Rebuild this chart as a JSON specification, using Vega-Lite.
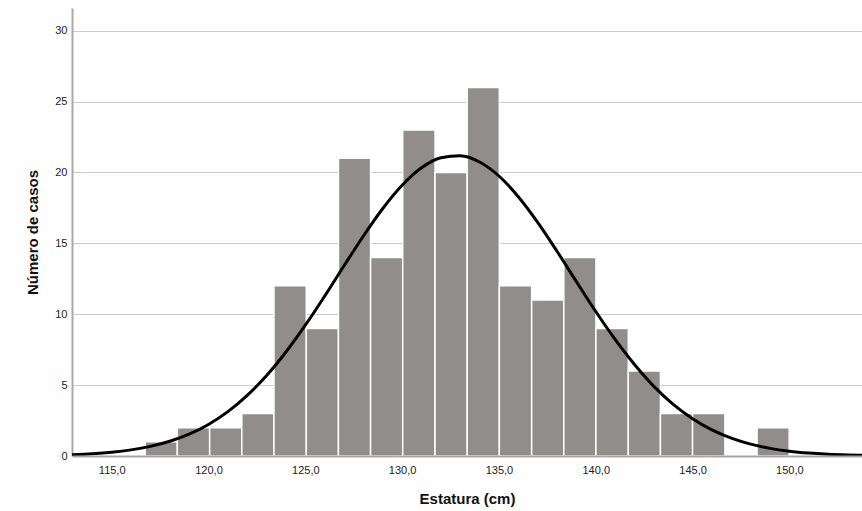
{
  "$schema": "https://vega.github.io/schema/vega-lite/v6.json",
  "width": 790,
  "height": 448,
  "autosize": {"type": "none"},
  "padding": {"left": 72, "top": 8, "right": 0, "bottom": 55},
  "config": {
    "font": "Liberation Sans",
    "view": {"stroke": null},
    "axis": {
      "labelFont": "Liberation Sans",
      "titleFont": "Liberation Sans",
      "labelFontSize": 11,
      "labelColor": "#222222",
      "titleFontSize": 15,
      "titleFontWeight": "bold",
      "titleColor": "#111111"
    }
  },
  "datasets": {
    "histograma": [
      {"inicio": 116.73, "fin": 118.39, "casos": 1},
      {"inicio": 118.39, "fin": 120.06, "casos": 2},
      {"inicio": 120.06, "fin": 121.72, "casos": 2},
      {"inicio": 121.72, "fin": 123.38, "casos": 3},
      {"inicio": 123.38, "fin": 125.05, "casos": 12},
      {"inicio": 125.05, "fin": 126.71, "casos": 9},
      {"inicio": 126.71, "fin": 128.37, "casos": 21},
      {"inicio": 128.37, "fin": 130.03, "casos": 14},
      {"inicio": 130.03, "fin": 131.70, "casos": 23},
      {"inicio": 131.70, "fin": 133.36, "casos": 20},
      {"inicio": 133.36, "fin": 135.02, "casos": 26},
      {"inicio": 135.02, "fin": 136.69, "casos": 12},
      {"inicio": 136.69, "fin": 138.35, "casos": 11},
      {"inicio": 138.35, "fin": 140.01, "casos": 14},
      {"inicio": 140.01, "fin": 141.68, "casos": 9},
      {"inicio": 141.68, "fin": 143.34, "casos": 6},
      {"inicio": 143.34, "fin": 145.00, "casos": 3},
      {"inicio": 145.00, "fin": 146.67, "casos": 3},
      {"inicio": 146.67, "fin": 148.33, "casos": 0},
      {"inicio": 148.33, "fin": 149.99, "casos": 2}
    ],
    "curva_normal": [
      {"estatura": 112, "casos": 0.054},
      {"estatura": 113, "casos": 0.095},
      {"estatura": 114, "casos": 0.161},
      {"estatura": 115, "casos": 0.268},
      {"estatura": 116, "casos": 0.433},
      {"estatura": 117, "casos": 0.679},
      {"estatura": 118, "casos": 1.037},
      {"estatura": 119, "casos": 1.540},
      {"estatura": 120, "casos": 2.226},
      {"estatura": 121, "casos": 3.127},
      {"estatura": 122, "casos": 4.272},
      {"estatura": 123, "casos": 5.677},
      {"estatura": 124, "casos": 7.338},
      {"estatura": 125, "casos": 9.224},
      {"estatura": 126, "casos": 11.28},
      {"estatura": 127, "casos": 13.42},
      {"estatura": 128, "casos": 15.52},
      {"estatura": 129, "casos": 17.46},
      {"estatura": 130, "casos": 19.10},
      {"estatura": 131, "casos": 20.33},
      {"estatura": 132, "casos": 21.04},
      {"estatura": 133, "casos": 21.18},
      {"estatura": 134, "casos": 20.74},
      {"estatura": 135, "casos": 19.75},
      {"estatura": 136, "casos": 18.29},
      {"estatura": 137, "casos": 16.48},
      {"estatura": 138, "casos": 14.44},
      {"estatura": 139, "casos": 12.30},
      {"estatura": 140, "casos": 10.19},
      {"estatura": 141, "casos": 8.22},
      {"estatura": 142, "casos": 6.45},
      {"estatura": 143, "casos": 4.91},
      {"estatura": 144, "casos": 3.64},
      {"estatura": 145, "casos": 2.63},
      {"estatura": 146, "casos": 1.84},
      {"estatura": 147, "casos": 1.26},
      {"estatura": 148, "casos": 0.836},
      {"estatura": 149, "casos": 0.539},
      {"estatura": 150, "casos": 0.338},
      {"estatura": 151, "casos": 0.207},
      {"estatura": 152, "casos": 0.123},
      {"estatura": 153, "casos": 0.071},
      {"estatura": 154, "casos": 0.040}
    ]
  },
  "layer": [
    {
      "data": {"name": "histograma"},
      "mark": {"type": "bar", "color": "#918d8c", "stroke": "#ffffff", "strokeWidth": 1.5},
      "encoding": {
        "x": {
          "field": "inicio",
          "type": "quantitative",
          "title": "Estatura (cm)",
          "scale": {"domain": [112.95, 153.75], "nice": false, "zero": false},
          "axis": {
            "values": [115, 120, 125, 130, 135, 140, 145, 150],
            "labelExpr": "replace(format(datum.value, '.1f'), '.', ',')",
            "grid": false,
            "ticks": false,
            "domain": true,
            "domainColor": "#a8a8a8",
            "domainWidth": 2,
            "labelPadding": 8,
            "titlePadding": 16,
            "zindex": 1
          }
        },
        "x2": {"field": "fin"},
        "y": {
          "field": "casos",
          "type": "quantitative",
          "title": "Número de casos",
          "scale": {"domain": [0, 31.6], "nice": false},
          "axis": {
            "values": [0, 5, 10, 15, 20, 25, 30],
            "grid": true,
            "gridColor": "#cccccc",
            "gridWidth": 1,
            "ticks": false,
            "domain": true,
            "domainColor": "#a8a8a8",
            "domainWidth": 2,
            "labelPadding": 5,
            "titlePadding": 14
          }
        },
        "y2": {"datum": 0}
      }
    },
    {
      "data": {"name": "curva_normal"},
      "mark": {"type": "line", "color": "#000000", "strokeWidth": 3, "interpolate": "monotone", "clip": true},
      "encoding": {
        "x": {"field": "estatura", "type": "quantitative", "title": "Estatura (cm)"},
        "y": {"field": "casos", "type": "quantitative", "title": "Número de casos"}
      }
    }
  ]
}
